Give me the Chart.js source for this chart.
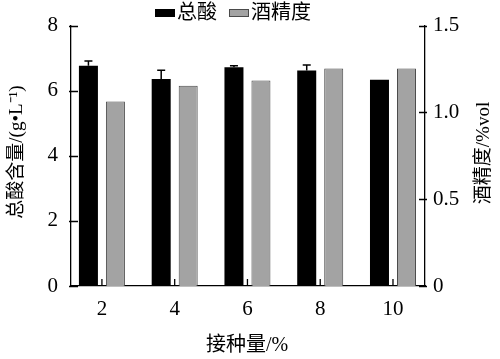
<!DOCTYPE html>
<html>
<head>
<meta charset="utf-8">
<script src="https://cdn.jsdelivr.net/npm/chart.js@4.4.1/dist/chart.umd.min.js"></script>
<style>
  html, body { margin: 0; padding: 0; background: #fff; }
  #wrap { width: 500px; height: 359px; position: relative; }
</style>
</head>
<body>
<div id="wrap"><canvas id="c"></canvas></div>
<script>
// ==================== DATA ====================
const doses = [2, 4, 6, 8, 10];              // 接种量/%
const totalAcid = [6.77, 6.36, 6.72, 6.62, 6.34]; // g/L
const totalAcidErr = [0.14, 0.27, 0.05, 0.17, 0];
const alcohol = [1.063, 1.153, 1.184, 1.253, 1.253]; // %vol
const alcoholErr = [0, 0, 0, 0, 0];
const leftTicks = [0, 2, 4, 6, 8];
const rightTicks = [0, 0.5, 1.0, 1.5];

const serif = "'Liberation Serif', 'Noto Sans CJK SC', serif";
const cjk = "'Liberation Serif', 'Noto Sans CJK SC', serif";

// ==================== DECORATIONS ====================
const deco = {
  id: "deco",
  afterDatasetsDraw(chart) {
    const ctx = chart.ctx;
    // error bars (upper only)
    chart.data.datasets.forEach((ds, di) => {
      const meta = chart.getDatasetMeta(di);
      const scale = chart.scales[ds.yAxisID];
      meta.data.forEach((bar, i) => {
        const e = ds.errs[i];
        if (!e) return;
        const yTop = scale.getPixelForValue(ds.data[i].y + e);
        ctx.save();
        ctx.strokeStyle = "#000";
        ctx.lineWidth = 1.5;
        ctx.beginPath();
        ctx.moveTo(bar.x, bar.y);
        ctx.lineTo(bar.x, yTop);
        ctx.moveTo(bar.x - 4, yTop);
        ctx.lineTo(bar.x + 4, yTop);
        ctx.stroke();
        ctx.restore();
      });
    });
  },
  afterDraw(chart) {
    const ctx = chart.ctx;
    const a = chart.chartArea;
    const yL = chart.scales.y, yR = chart.scales.y2, x = chart.scales.x;
    ctx.save();
    ctx.strokeStyle = "#000";
    ctx.lineWidth = 1.3;
    ctx.beginPath();
    leftTicks.forEach(v => {
      const p = Math.round(yL.getPixelForValue(v)) + 0.5;
      ctx.moveTo(a.left - 2, p); ctx.lineTo(a.left + 7, p);
    });
    rightTicks.forEach(v => {
      const p = Math.round(yR.getPixelForValue(v)) + 0.5;
      ctx.moveTo(a.right + 2, p); ctx.lineTo(a.right - 6, p);
    });
    doses.forEach(v => {
      const p = x.getPixelForValue(v);
      ctx.moveTo(p, a.bottom); ctx.lineTo(p, a.bottom - 7);
    });
    ctx.stroke();

    // legend
    ctx.textBaseline = "middle";
    ctx.font = "20px " + cjk;
    let lx = 155;
    chart.data.datasets.forEach(ds => {
      ctx.fillStyle = ds.backgroundColor;
      ctx.fillRect(lx, 9, 20, 8);
      if (ds.borderWidth) {
        ctx.strokeStyle = ds.borderColor;
        ctx.lineWidth = 1;
        ctx.strokeRect(lx + 0.5, 9.5, 19, 7);
      }
      ctx.fillStyle = "#000";
      ctx.fillText(ds.label, lx + 22, 14);
      lx += 22 + ctx.measureText(ds.label).width + 12;
    });

    // axis titles
    ctx.textAlign = "center";
    ctx.font = "19px " + cjk;
    ctx.save();
    ctx.translate(17, 152);
    ctx.rotate(-Math.PI / 2);
    ctx.fillText("总酸含量/(g•L⁻¹)", 0, 0);
    ctx.restore();
    ctx.save();
    ctx.translate(484, 153);
    ctx.rotate(-Math.PI / 2);
    ctx.fillText("酒精度/%vol", 0, 0);
    ctx.restore();
    ctx.font = "20px " + cjk;
    ctx.fillText("接种量/%", 247, 346);
    ctx.restore();
  }
};

// ==================== CHART ====================
new Chart(document.getElementById("c"), {
  type: "bar",
  data: {
    datasets: [
      {
        label: "总酸",
        data: doses.map((d, i) => ({ x: d, y: totalAcid[i] })),
        errs: totalAcidErr,
        yAxisID: "y",
        backgroundColor: "#000000",
        borderWidth: 0
      },
      {
        label: "酒精度",
        data: doses.map((d, i) => ({ x: d, y: alcohol[i] })),
        errs: alcoholErr,
        yAxisID: "y2",
        backgroundColor: "#a3a3a3",
        borderColor: "#4a4a4a",
        borderWidth: 1
      }
    ]
  },
  options: {
    responsive: true,
    maintainAspectRatio: false,
    animation: false,
    categoryPercentage: 0.742,
    barPercentage: 0.704,
    layout: { padding: { top: 12, left: 0, right: 0, bottom: 0 } },
    plugins: { legend: { display: false }, tooltip: { enabled: false } },
    scales: {
      x: {
        type: "linear",
        offset: false,
        min: 1.15,
        max: 10.88,
        afterBuildTicks: s => { s.ticks = doses.map(v => ({ value: v })); },
        afterFit: s => { s.height = 73; },
        grid: { display: false, drawTicks: false },
        border: { color: "#000", width: 1.3 },
        ticks: { color: "#000", padding: 11, font: { family: serif, size: 21 } }
      },
      y: {
        position: "left",
        min: 0,
        max: 8,
        afterBuildTicks: s => { s.ticks = leftTicks.map(v => ({ value: v })); },
        afterFit: s => { s.width = 71; },
        grid: { display: false, drawTicks: false },
        border: { color: "#000", width: 1.3 },
        ticks: { color: "#000", padding: 13, font: { family: serif, size: 21 } }
      },
      y2: {
        position: "right",
        min: 0,
        max: 1.5,
        afterBuildTicks: s => { s.ticks = rightTicks.map(v => ({ value: v })); },
        afterFit: s => { s.width = 75; },
        grid: { display: false, drawTicks: false },
        border: { color: "#000", width: 1.3 },
        ticks: {
          color: "#000", padding: 8, font: { family: serif, size: 21 },
          callback: v => v === 0 ? "0" : v.toFixed(1)
        }
      }
    }
  },
  plugins: [deco]
});
</script>
</body>
</html>
